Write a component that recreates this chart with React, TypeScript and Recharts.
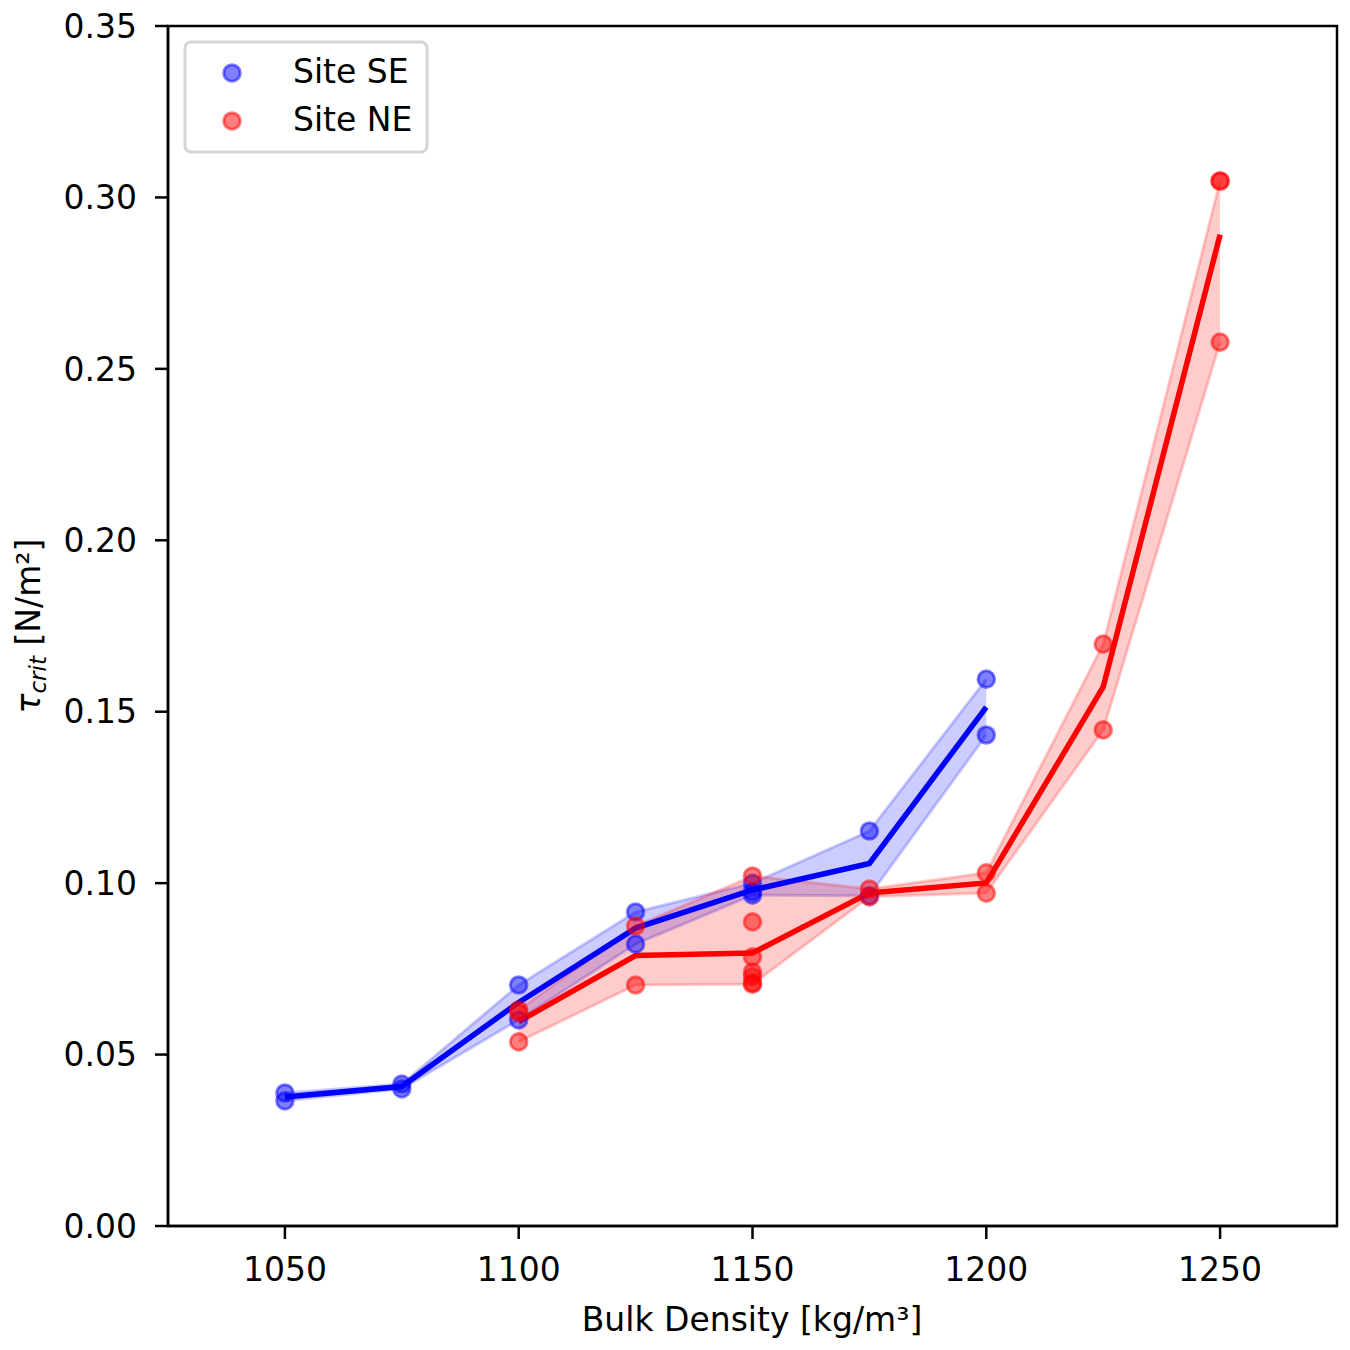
import React from 'react';
import {
  ComposedChart,
  XAxis,
  YAxis,
  Area,
  Line,
  Scatter,
  ReferenceArea,
} from 'recharts';

// ---- data ----
const densities = [1050, 1075, 1100, 1125, 1150, 1175, 1200, 1225, 1250];
const seSamples: number[][] = [
  [0.0388, 0.0365],
  [0.0414, 0.04],
  [0.0703, 0.0601],
  [0.0916, 0.0822],
  [0.1, 0.0975, 0.0965],
  [0.1152, 0.0963],
  [0.1595, 0.1432],
  [],
  [],
];
const neSamples: number[][] = [
  [],
  [],
  [0.063, 0.0622, 0.0537],
  [0.0875, 0.0703],
  [0.1021, 0.0887, 0.0785, 0.0741, 0.0727, 0.0709, 0.0705],
  [0.0983, 0.096],
  [0.103, 0.0971],
  [0.1697, 0.1447],
  [0.3048, 0.3048, 0.2578],
];
const xTicks = [1050, 1100, 1150, 1200, 1250];
const yTicks = [0, 0.05, 0.1, 0.15, 0.2, 0.25, 0.3, 0.35];
const seriesNames = ['Site SE', 'Site NE'];

// ---- derived tables ----
const mean = (a: number[]) => a.reduce((s, v) => s + v, 0) / a.length;
const table = densities.map((x, i) => {
  const se = seSamples[i];
  const ne = neSamples[i];
  return {
    x,
    seBand: se.length ? [Math.min(...se), Math.max(...se)] : null,
    seMean: se.length ? mean(se) : null,
    neBand: ne.length ? [Math.min(...ne), Math.max(...ne)] : null,
    neMean: ne.length ? mean(ne) : null,
  };
});
const toPoints = (samples: number[][]) =>
  densities.flatMap((x, i) => samples[i].map((y) => ({ x, y })));
const sePoints = toPoints(seSamples);
const nePoints = toPoints(neSamples);

const FONT = 'DejaVu Sans, sans-serif';
const FS = 33;

const makeDot = (rgb: string) => (props: any) => {
  const { cx, cy } = props;
  if (cx == null || cy == null) return <g />;
  return (
    <circle
      cx={cx}
      cy={cy}
      r={8.3}
      fill={`rgba(${rgb},0.5)`}
      stroke={`rgba(${rgb},0.5)`}
      strokeWidth={3}
    />
  );
};

const YLabel = () => (
  <text
    transform="translate(40,626) rotate(-90)"
    textAnchor="middle"
    fontFamily={FONT}
    fontSize={FS}
    fill="#000"
  >
    <tspan fontStyle="italic">τ</tspan>
    <tspan fontStyle="italic" fontSize={23} dy={6}>crit</tspan>
    <tspan dy={-6}> [N/m²]</tspan>
  </text>
);

const XLabel = () => (
  <text x={752} y={1331} textAnchor="middle" fontFamily={FONT} fontSize={FS} fill="#000">
    Bulk Density [kg/m³]
  </text>
);

const LegendBox = () => (
  <svg
    width={260}
    height={130}
    style={{ position: 'absolute', left: 175, top: 32 }}
  >
    <rect
      x={10}
      y={10}
      width={242}
      height={110}
      rx={6}
      ry={6}
      fill="rgba(255,255,255,0.8)"
      stroke="#d5d5d5"
      strokeWidth={3}
    />
    <circle cx={57} cy={41} r={8.3} fill="rgba(0,0,255,0.5)" stroke="rgba(0,0,255,0.5)" strokeWidth={3} />
    <circle cx={57} cy={89} r={8.3} fill="rgba(255,0,0,0.5)" stroke="rgba(255,0,0,0.5)" strokeWidth={3} />
    <text x={118} y={51} fontFamily={FONT} fontSize={FS} fill="#000">{seriesNames[0]}</text>
    <text x={118} y={99} fontFamily={FONT} fontSize={FS} fill="#000">{seriesNames[1]}</text>
  </svg>
);

export default function App() {
  return (
    <div style={{ position: 'absolute', left: 0, top: 0, width: 1350, height: 1350, background: '#fff' }}>
      <ComposedChart
        width={1350}
        height={1350}
        data={table}
        margin={{ top: 26, right: 13, bottom: 0, left: 0 }}
      >
        <XAxis
          dataKey="x"
          type="number"
          domain={[1025, 1275]}
          ticks={xTicks}
          allowDataOverflow
          height={124}
          tickSize={13}
          tickMargin={19}
          stroke="#000"
          strokeWidth={2.5}
          tick={{ fill: '#000', fontFamily: FONT, fontSize: FS }}
          tickLine={{ stroke: '#000', strokeWidth: 2.5 }}
          label={<XLabel />}
        />
        <YAxis
          type="number"
          domain={[0, 0.35]}
          ticks={yTicks}
          allowDataOverflow
          width={168}
          tickSize={13}
          tickMargin={18}
          stroke="#000"
          strokeWidth={2.5}
          tickFormatter={(v: number) => v.toFixed(2)}
          tick={{ fill: '#000', fontFamily: FONT, fontSize: FS }}
          tickLine={{ stroke: '#000', strokeWidth: 2.5 }}
          label={<YLabel />}
        />
        <Area
          dataKey="seBand"
          type="linear"
          fill="#0000ff"
          fillOpacity={0.2}
          stroke="rgba(0,0,255,0.2)"
          strokeWidth={3}
          isAnimationActive={false}
          dot={false}
          activeDot={false}
        />
        <Area
          dataKey="neBand"
          type="linear"
          fill="#ff0000"
          fillOpacity={0.2}
          stroke="rgba(255,0,0,0.2)"
          strokeWidth={3}
          isAnimationActive={false}
          dot={false}
          activeDot={false}
        />
        <Scatter data={sePoints} dataKey="y" shape={makeDot('0,0,255')} isAnimationActive={false} />
        <Scatter data={nePoints} dataKey="y" shape={makeDot('255,0,0')} isAnimationActive={false} />
        <Line
          dataKey="seMean"
          type="linear"
          stroke="#0000ff"
          strokeWidth={5.5}
          dot={false}
          activeDot={false}
          isAnimationActive={false}
        />
        <Line
          dataKey="neMean"
          type="linear"
          stroke="#ff0000"
          strokeWidth={5.5}
          dot={false}
          activeDot={false}
          isAnimationActive={false}
        />
        <ReferenceArea
          x1={1025}
          x2={1275}
          y1={0}
          y2={0.35}
          fill="none"
          stroke="#000"
          strokeWidth={2.5}
          ifOverflow="visible"
        />
      </ComposedChart>
      <LegendBox />
    </div>
  );
}
